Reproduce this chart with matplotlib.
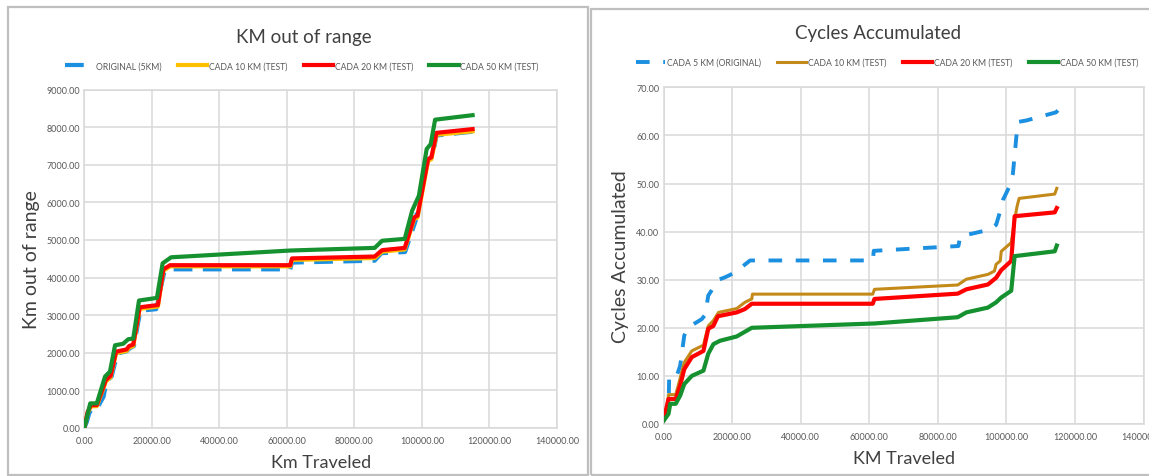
import matplotlib
matplotlib.use("Agg")
import matplotlib.pyplot as plt
from matplotlib.patches import Rectangle
from matplotlib.ticker import MultipleLocator, FormatStrFormatter

plt.rcParams['font.family'] = ['Lato', 'DejaVu Sans']

# ---- left chart: KM out of range ----
km_orig_x = [0, 700, 1500, 2500, 3900, 5700, 6600, 8100, 9800, 12500, 13500, 14700, 16600, 21300,
             23700, 25400, 61000, 61500, 86000, 88000, 95000, 98100, 99600, 101800, 103300, 104300, 115000]
km_orig_y = [0, 150, 400, 540, 540, 830, 1240, 1370, 1980, 2040, 2120, 2180, 3120, 3160,
             4150, 4220, 4220, 4400, 4450, 4650, 4680, 5500, 6350, 7100, 7280, 7780, 7880]

km_10_x = [0, 1000, 2000, 3700, 6400, 7800, 9400, 12500, 13300, 14500, 16400, 21800, 23400, 25400,
           61000, 61500, 86000, 88200, 94900, 97700, 98700, 101800, 102800, 104300, 115000]
km_10_y = [0, 400, 580, 580, 1240, 1350, 1990, 2050, 2140, 2180, 3170, 3230, 4180, 4300,
           4300, 4470, 4520, 4690, 4750, 5560, 5600, 7100, 7150, 7800, 7890]

km_20_x = km_10_x
km_20_y = [0, 430, 610, 610, 1280, 1390, 2030, 2090, 2180, 2220, 3210, 3270, 4220, 4330,
           4330, 4510, 4560, 4730, 4790, 5600, 5650, 7150, 7200, 7850, 7950]

km_50_x = [0, 1750, 3700, 6150, 7600, 9100, 11500, 13000, 14500, 16200, 21500, 23200, 25700,
           61000, 86000, 88200, 94900, 97100, 99100, 101400, 102600, 103900, 115000]
km_50_y = [0, 655, 655, 1370, 1500, 2200, 2240, 2360, 2380, 3390, 3460, 4380, 4540,
           4720, 4790, 4980, 5030, 5780, 6180, 7420, 7550, 8200, 8320]

# ---- right chart: Cycles Accumulated ----
cyc_5_x = [0, 1400, 1600, 3800, 4800, 6000, 7200, 11100, 12100, 13000, 16000, 17900, 20800, 25200,
           61000, 61300, 86000, 86500, 95000, 97000, 98000, 99000, 100900, 101900, 102900, 103400,
           105800, 114500, 115000]
cyc_5_y = [1.0, 2.8, 10.0, 10.0, 12.1, 18.4, 20.1, 21.8, 22.7, 26.7, 30.0, 30.5, 31.5, 34.0,
           34.0, 36.0, 37.0, 39.0, 40.4, 41.4, 43.8, 46.6, 49.4, 52.1, 59.7, 62.8,
           63.1, 64.8, 65.2]

cyc_10_x = [0, 900, 1400, 3500, 4500, 6000, 8200, 11600, 13000, 14500, 16000, 21300, 23700, 25700,
            25900, 61000, 61500, 85800, 88300, 94600, 96500, 97000, 98200, 98500, 101400, 102400,
            103100, 103700, 114100, 114700]
cyc_10_y = [1.0, 3.1, 6.1, 6.1, 8.7, 12.8, 15.2, 16.4, 20.4, 21.5, 23.2, 24.0, 25.3, 26.0,
            27.0, 27.0, 28.0, 28.9, 30.1, 31.1, 31.8, 33.2, 33.9, 35.9, 37.7, 42.5,
            45.2, 46.9, 47.8, 49.0]

cyc_20_x = [0, 1400, 3500, 4800, 6000, 8200, 11600, 13000, 14500, 15800, 21300, 23700, 25700,
            61000, 61500, 85800, 88300, 94600, 97000, 98500, 101400, 102400, 114100, 114700]
cyc_20_y = [0.9, 5.2, 5.2, 8.0, 11.4, 13.9, 15.2, 19.8, 20.4, 22.4, 23.2, 23.9, 25.0,
            25.0, 26.0, 27.1, 28.0, 29.0, 30.4, 32.0, 33.9, 43.2, 44.0, 44.9]

cyc_50_x = [0, 1400, 1900, 3500, 4800, 6000, 8200, 11600, 13000, 14500, 16400, 21300, 25700,
            61500, 85800, 88300, 94600, 97000, 98500, 101400, 102400, 114100, 114700]
cyc_50_y = [0.7, 2.1, 4.2, 4.2, 5.9, 8.3, 10.0, 11.1, 14.6, 16.6, 17.3, 18.2, 20.0,
            20.9, 22.2, 23.2, 24.2, 25.3, 26.3, 27.7, 34.9, 35.9, 37.1]

W, H = 1149, 477
fig = plt.figure(figsize=(W / 100, H / 100), dpi=100)
fig.patch.set_facecolor('white')


def px_axes(x0, y0, x1, y1):
    # pixel box (top-left origin) -> figure axes
    return fig.add_axes([x0 / W, 1 - y1 / H, (x1 - x0) / W, (y1 - y0) / H])


def style(ax, ymax, ystep):
    ax.set_xlim(0, 140000)
    ax.set_ylim(0, ymax)
    ax.xaxis.set_major_locator(MultipleLocator(20000))
    ax.yaxis.set_major_locator(MultipleLocator(ystep))
    ax.xaxis.set_major_formatter(FormatStrFormatter('%.2f'))
    ax.yaxis.set_major_formatter(FormatStrFormatter('%.2f'))
    ax.grid(True, color='#d9d9d9', lw=1.1)
    ax.set_axisbelow(True)
    for s in ax.spines.values():
        s.set_color('#d9d9d9')
        s.set_linewidth(1.1)
    ax.tick_params(length=0, labelsize=6.5, colors='#595959')
    ax.tick_params(axis='y', pad=3)
    ax.tick_params(axis='x', pad=6)


# chart frames
fig.add_artist(Rectangle((8 / W, 1 - 476 / H), 580 / W, 468 / H, transform=fig.transFigure,
                         fill=False, ec='#bfbfbf', lw=1.6))
fig.add_artist(Rectangle((591 / W, 1 - 476 / H), 560 / W, 466 / H, transform=fig.transFigure,
                         fill=False, ec='#bfbfbf', lw=1.6))

leg_kw = dict(loc='center', ncol=4, frameon=False, fontsize=6.2, handlelength=3.4,
              handletextpad=0.2, columnspacing=1.9, labelcolor='#595959')

ax1 = px_axes(84.3, 90.6, 557, 429)
style(ax1, 9000, 1000)
ax1.plot(km_orig_x, km_orig_y, color='#1b8fe0', lw=3, dashes=(4.5, 2.5), label='ORIGINAL (5KM)', zorder=2)
ax1.plot(km_10_x, km_10_y, color='#ffc000', lw=3, label='CADA 10 KM (TEST)', zorder=3)
ax1.plot(km_20_x, km_20_y, color='#ff0000', lw=3, label='CADA 20 KM (TEST)', zorder=4)
ax1.plot(km_50_x, km_50_y, color='#15912f', lw=3, label='CADA 50 KM (TEST)', zorder=5)
ax1.set_xlabel('Km Traveled', fontsize=13, color='#404040', labelpad=6)
ax1.set_ylabel('Km out of range', fontsize=14, color='#404040', labelpad=5)
fig.text(304 / W, 1 - 37 / H, 'KM out of range', ha='center', va='center', fontsize=13.5, color='#404040')
ax1.legend(bbox_to_anchor=(0.46, 1.07), **leg_kw)

ax2 = px_axes(663.7, 88.3, 1143.5, 425)
style(ax2, 70, 10)
ax2.plot(cyc_5_x, cyc_5_y, color='#1b8fe0', lw=2.8, dashes=(3.5, 3.5), label='CADA 5 KM (ORIGINAL)', zorder=2)
ax2.plot(cyc_10_x, cyc_10_y, color='#c38a1a', lw=2.2, label='CADA 10 KM (TEST)', zorder=3)
ax2.plot(cyc_20_x, cyc_20_y, color='#ff0000', lw=3, label='CADA 20 KM (TEST)', zorder=4)
ax2.plot(cyc_50_x, cyc_50_y, color='#15912f', lw=3, label='CADA 50 KM (TEST)', zorder=5)
ax2.set_xlabel('KM Traveled', fontsize=13, color='#404040', labelpad=6)
ax2.set_ylabel('Cycles Accumulated', fontsize=14, color='#404040', labelpad=5)
fig.text(878 / W, 1 - 33 / H, 'Cycles Accumulated', ha='center', va='center', fontsize=13.5, color='#404040')
ax2.legend(bbox_to_anchor=(0.465, 1.075), **leg_kw)

fig.savefig('out.png', dpi=100)
